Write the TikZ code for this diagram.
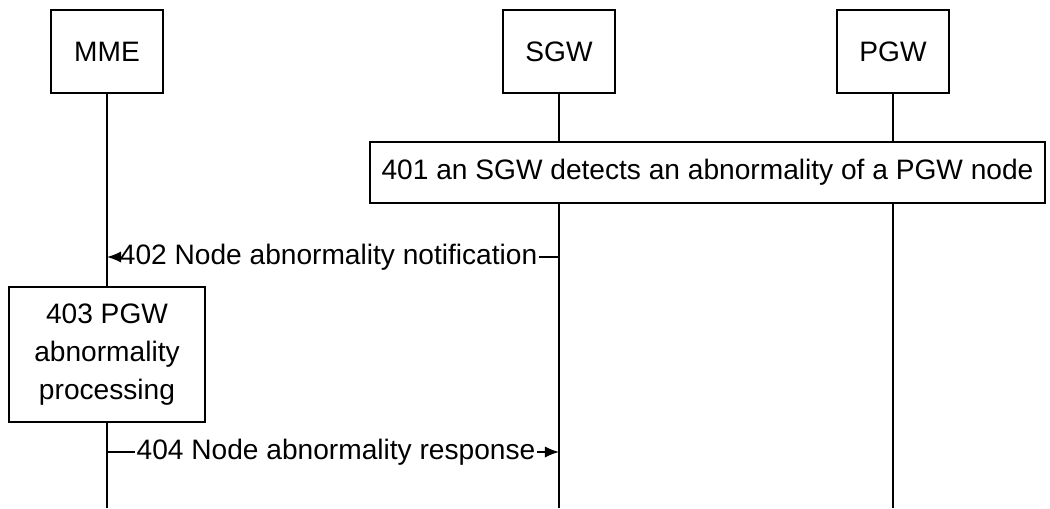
\documentclass[tikz,border=0pt]{standalone}
\usepackage{fontspec}
\setmainfont{Liberation Sans}
\usetikzlibrary{arrows.meta,positioning}

\tikzset{
  entity/.style={draw, fill=white, line width=1.2pt, minimum width=2.8cm, minimum height=2.075cm},
  stepbox/.style={draw, fill=white, line width=1.2pt, align=center},
  lifeline/.style={line width=1.1pt},
  msg/.style={line width=1.1pt, -{Latex[length=10pt,width=8pt]}},
  msgtext/.style={inner sep=1pt}
}

\begin{document}
\begin{tikzpicture}[x=0.025cm,y=-0.025cm, every node/.style={font=\fontsize{20}{24}\selectfont}]
\useasboundingbox (0,0) rectangle (1050,508);

% entities
\node[entity] (mme) at (107,51.5) {MME};
\node[entity] (sgw) at (559,51.5) {SGW};
\node[entity] (pgw) at (893,51.5) {PGW};

% lifelines
\coordinate (mmeend) at (107,508);
\coordinate (sgwend) at (559,508);
\coordinate (pgwend) at (893,508);
\draw[lifeline] (mme) -- (mmeend);
\draw[lifeline] (sgw) -- (sgwend);
\draw[lifeline] (pgw) -- (pgwend);

% 401
\node[stepbox, minimum width=16.875cm, minimum height=1.525cm] (s401) at (707.5,172.5)
  {401 an SGW detects an abnormality of a PGW node};

% 402
\coordinate (sgw402) at (559,257);
\coordinate (mme402) at (107,257);
\node[msgtext, left=0.5cm of sgw402] (t402) {402 Node abnormality notification};
\draw[lifeline] (sgw402) -- (t402);
\draw[msg] (t402) -- (mme402);

% 403
\node[stepbox, minimum width=4.9cm, minimum height=3.375cm,
  font=\fontsize{20}{27}\selectfont] (s403) at (107,354.5)
  {403 PGW\\abnormality\\processing};

% 404
\coordinate (mme404) at (107,452);
\coordinate (sgw404) at (559,452);
\node[msgtext, right=0.7cm of mme404] (t404) {404 Node abnormality response};
\draw[lifeline] (mme404) -- (t404);
\draw[msg] (t404) -- (sgw404);
\end{tikzpicture}
\end{document}
